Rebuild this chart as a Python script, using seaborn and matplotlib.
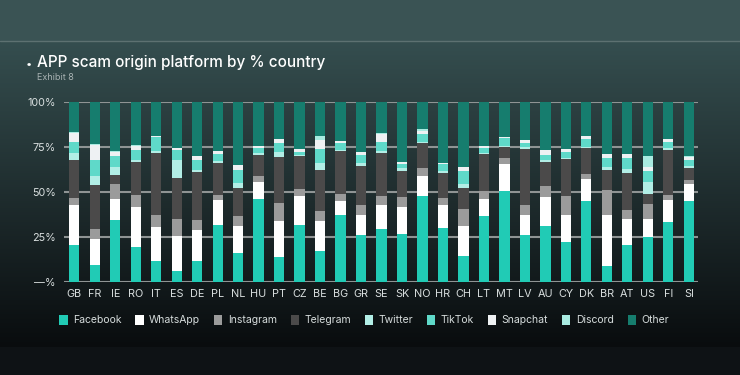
import numpy as np
import pandas as pd
import matplotlib
matplotlib.use("Agg")
import matplotlib.pyplot as plt
import seaborn as sns
from matplotlib.patches import Patch

countries = ["GB", "FR", "IE", "RO", "IT", "ES", "DE", "PL", "NL", "HU", "PT", "CZ", "BE", "BG", "GR", "SE",
             "SK", "NO", "HR", "CH", "LT", "MT", "LV", "AU", "CY", "DK", "BR", "AT", "US", "FI", "SI"]
platforms = ["Facebook", "WhatsApp", "Instagram", "Telegram", "Twitter", "TikTok", "Snapchat", "Discord", "Other"]

facebook = [20.9, 9.8, 34.8, 19.6, 12.0, 6.1, 11.6, 31.6, 16.3, 46.4, 14.2, 31.6, 17.2, 37.5, 26.1, 29.6,
            26.8, 48.1, 30.1, 14.8, 37.0, 51.0, 26.4, 31.2, 22.2, 45.3, 9.2, 20.5, 25.1, 33.5, 45.3]
whatsapp = [21.8, 14.4, 11.6, 22.0, 18.7, 19.8, 17.4, 14.2, 15.2, 9.2, 19.8, 16.6, 16.6, 7.4, 11.1, 13.5,
            15.3, 11.2, 13.0, 16.6, 9.2, 14.8, 10.8, 16.3, 15.3, 12.0, 28.3, 14.6, 10.0, 12.3, 9.2]
instagram = [4.4, 5.4, 8.1, 7.0, 6.8, 9.2, 5.6, 2.8, 5.6, 3.2, 10.2, 3.7, 5.9, 4.3, 5.9, 5.1,
             5.2, 4.1, 4.0, 9.3, 4.3, 3.1, 5.9, 6.1, 10.7, 3.1, 13.9, 5.2, 8.3, 2.8, 2.4]
telegram = [20.9, 24.2, 5.2, 18.5, 34.2, 22.8, 26.6, 17.6, 15.1, 12.0, 25.5, 18.0, 22.8, 23.7, 21.6, 23.5,
            14.6, 13.9, 13.5, 11.6, 20.7, 6.5, 31.0, 13.3, 20.2, 14.1, 11.1, 20.3, 5.6, 25.0, 6.5]
twitter = [3.7, 5.0, 4.3, 0.6, 1.5, 9.8, 1.1, 1.3, 2.8, 1.3, 2.8, 0.9, 3.7, 0.5, 1.5, 1.3,
           1.5, 0.9, 1.0, 2.2, 0.5, 0.6, 0.8, 0.9, 0.9, 0.7, 1.3, 2.2, 7.0, 0.9, 1.3]
tiktok = [6.1, 8.9, 5.9, 5.9, 7.8, 5.9, 5.7, 4.0, 7.5, 2.4, 5.1, 1.8, 7.9, 3.9, 4.6, 5.2,
          2.2, 4.1, 4.2, 7.1, 2.8, 4.4, 2.7, 2.8, 3.0, 4.5, 5.1, 6.5, 5.6, 3.3, 3.0]
snapchat = [5.0, 8.6, 2.7, 2.2, 0.3, 0.9, 2.4, 1.5, 2.7, 1.3, 1.9, 1.3, 5.0, 1.3, 1.8, 4.1,
            1.5, 2.0, 0.3, 2.7, 1.5, 0.6, 1.5, 2.8, 1.8, 1.8, 2.3, 1.9, 2.2, 1.9, 1.8]
discord = [0.6, 0.7, 0.4, 0.3, 0.0, 0.0, 0.0, 0.0, 0.0, 0.0, 0.0, 0.0, 1.9, 0.0, 0.0, 0.7,
           0.0, 0.7, 0.0, 0.0, 0.0, 0.0, 0.0, 0.0, 0.0, 0.0, 0.0, 0.0, 6.1, 0.0, 0.9]
other = [16.6, 23.0, 27.0, 23.9, 18.7, 25.5, 29.6, 27.0, 34.8, 24.2, 20.5, 26.1, 19.0, 21.4, 27.4, 17.0,
         32.9, 15.0, 33.9, 35.7, 24.0, 19.0, 20.9, 26.6, 25.9, 18.5, 28.8, 28.8, 30.1, 20.3, 29.6]

colors = ["#21cbb5", "#ffffff", "#9b9b9b", "#4b4a4a", "#b2eee6", "#5fd9c9", "#eef1f3", "#a9ebe1", "#167d6e"]

series = [facebook, whatsapp, instagram, telegram, twitter, tiktok, snapchat, discord, other]
rows = []
for i, c in enumerate(countries):
    for p, vals in zip(platforms, series):
        rows.append({"country": c, "platform": p, "share": vals[i]})
df = pd.DataFrame(rows)
palette = dict(zip(platforms, colors))

sns.set_theme(style="white")
plt.rcParams["font.family"] = ["Inter", "DejaVu Sans"]

W, H = 740, 375
fig = plt.figure(figsize=(W / 100, H / 100), dpi=100)

# background: top strip, gradient card, dark footer
bg = fig.add_axes([0, 0, 1, 1], zorder=-10)
img = np.zeros((H, W, 3))
top = np.array([58, 83, 84]) / 255
c0 = np.array([53, 78, 79]) / 255
c1 = np.array([9, 12, 14]) / 255
foot = np.array([14, 18, 21]) / 255
img[:41] = top
t = np.linspace(0, 1, 347 - 41)[:, None]
img[41:347] = (c0 * (1 - t) + c1 * t)[:, None, :]
img[347:] = foot
bg.imshow(img, extent=[0, W, H, 0], aspect="auto")
bg.axhline(40.5, color="#5d7171", lw=1)
bg.set_xlim(0, W)
bg.set_ylim(H, 0)
bg.axis("off")

ax = fig.add_axes([64 / W, (H - 282.3) / H, 634 / W, 180 / H])
ax.patch.set_alpha(0)
sns.histplot(data=df, x="country", weights="share", hue="platform", hue_order=platforms[::-1],
             multiple="stack", palette=palette, shrink=0.5, discrete=True, linewidth=0,
             alpha=1, legend=False, ax=ax, zorder=3)

ax.set_xlim(-0.5, 30.45)
ax.set_ylim(0, 100)
ax.set_yticks([0, 25, 50, 75, 100])
ax.set_yticklabels(["—%", "25%", "50%", "75%", "100%"])
ax.set_xlabel("")
ax.set_ylabel("")
ax.yaxis.grid(True, color="#8f9494", lw=1.5)
ax.xaxis.grid(False)
ax.set_axisbelow(True)
for s in ax.spines.values():
    s.set_visible(False)
ax.tick_params(axis="both", length=0, labelsize=7.8, colors="#d9dfdf")
ax.tick_params(axis="y", pad=6)
ax.tick_params(axis="x", pad=5)

fig.text(26 / W, 1 - 64 / H, "•", color="white", fontsize=8, va="center", ha="left")
fig.text(37 / W, 1 - 62 / H, "APP scam origin platform by % country", color="white",
         fontsize=11, fontweight="medium", va="center", ha="left")
fig.text(37 / W, 1 - 77 / H, "Exhibit 8", color="#a9b3b3", fontsize=6.5, va="center", ha="left")

handles = [Patch(facecolor=c, edgecolor="none", label=p) for p, c in zip(platforms, colors)]
fig.legend(handles=handles, ncol=9, loc="center", bbox_to_anchor=(364 / W, 1 - 320 / H),
           frameon=False, fontsize=7.5, handlelength=0.8, handleheight=1.1, handletextpad=0.5,
           columnspacing=1.35, labelcolor="#d6dcdc")

fig.savefig("out.png", dpi=100)
